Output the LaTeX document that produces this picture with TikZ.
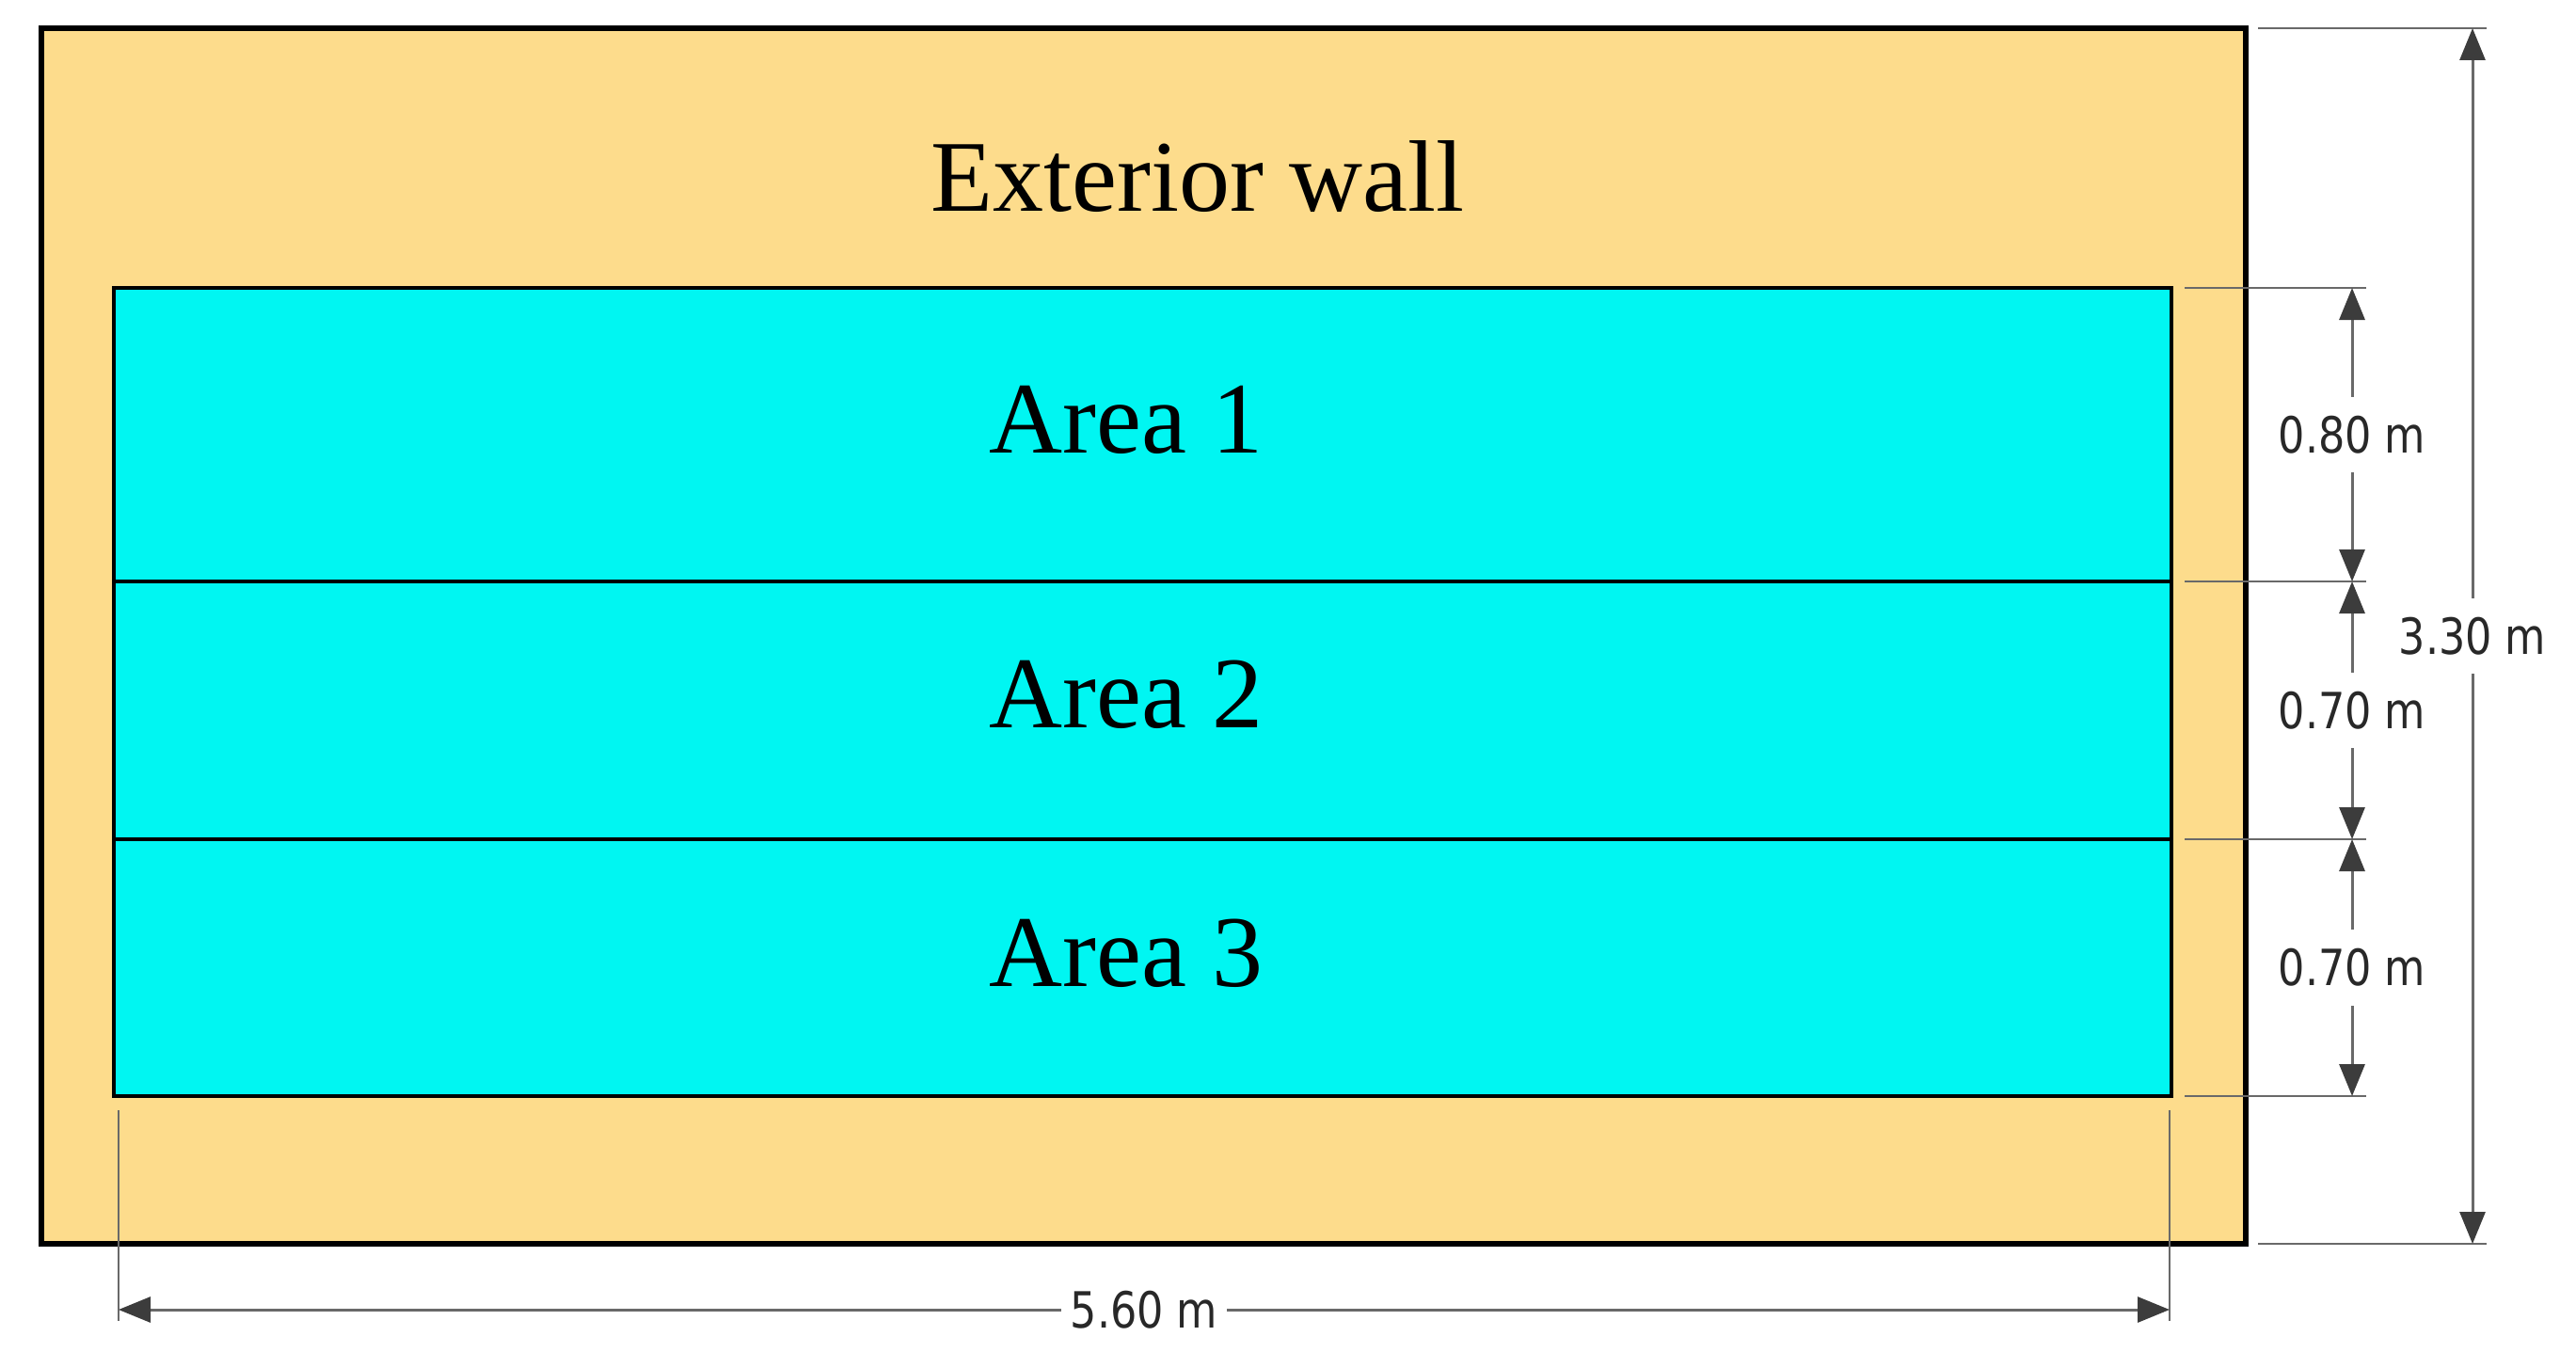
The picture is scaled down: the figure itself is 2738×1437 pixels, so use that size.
\documentclass[tikz,border=0pt]{standalone}
\usepackage{fontspec}
\usepackage{graphicx}
\setmainfont{Liberation Serif}
\newfontfamily\dimfont{DejaVu Sans}
\usetikzlibrary{arrows.meta}
\definecolor{wallfill}{RGB}{253,220,140}
\definecolor{areafill}{RGB}{0,246,242}
\definecolor{dimline}{RGB}{105,105,105}
\definecolor{dimtext}{RGB}{40,40,40}
\definecolor{arrowc}{RGB}{60,60,60}
\newcommand{\dimtxt}[1]{\scalebox{0.84}[1]{#1}}
\begin{document}
\begin{tikzpicture}[x=1pt,y=-1pt,
  wall/.style={fill=wallfill,draw=black,line width=5.5pt},
  area/.style={fill=areafill,draw=black,line width=3.5pt},
  extline/.style={draw=dimline,line width=2.5pt},
  dimarrow/.style={draw=dimline,line width=3pt,
    {Triangle[length=34pt,width=27pt,color=arrowc]}-{Triangle[length=34pt,width=27pt,color=arrowc]}},
  dimlabel/.style={fill=white,text=dimtext,inner xsep=10pt,inner ysep=20pt,
    font=\dimfont\fontsize{53}{53}\selectfont},
  arealabel/.style={font=\fontsize{108}{108}\selectfont,inner sep=0pt,anchor=base}
]
\useasboundingbox (0,0) rectangle (2738,1437);

% exterior wall
\draw[wall] (44,30) rectangle (2387,1322);
\node[arealabel] (wallname) at (1273,224) {Exterior wall};

% areas
\draw[area] (121,306) rectangle (2308,1165);
\draw[area] (121,618) -- (2308,618);
\draw[area] (121,892) -- (2308,892);
\node[arealabel] (a1) at (1197,481) {Area 1};
\node[arealabel] (a2) at (1197,773) {Area 2};
\node[arealabel] (a3) at (1197,1048) {Area 3};

% coordinates for dimensioning
\coordinate (d0) at (2500,306);
\coordinate (d1) at (2500,618);
\coordinate (d2) at (2500,892);
\coordinate (d3) at (2500,1165);
\coordinate (t0) at (2628,30);
\coordinate (t1) at (2628,1322);
\coordinate (b0) at (126,1392);
\coordinate (b1) at (2306,1392);

% extension lines
\draw[extline] (2322,306) -- (2515,306);
\draw[extline] (2322,618) -- (2515,618);
\draw[extline] (2322,892) -- (2515,892);
\draw[extline] (2322,1165) -- (2515,1165);
\draw[extline] (2400,30) -- (2643,30);
\draw[extline] (2400,1322) -- (2643,1322);
\draw[extline] (126,1180) -- (126,1404);
\draw[extline] (2306,1180) -- (2306,1404);

% dimension arrows
\draw[dimarrow] (d0) -- (d1) node[midway,dimlabel] (l1) {\dimtxt{0.80 m}};
\draw[dimarrow] (d1) -- (d2) node[midway,dimlabel] (l2) {\dimtxt{0.70 m}};
\draw[dimarrow] (d2) -- (d3) node[midway,dimlabel] (l3) {\dimtxt{0.70 m}};
\draw[dimarrow] (t0) -- (t1) node[midway,dimlabel] (lt) {\dimtxt{3.30 m}};
\draw[dimarrow] (b0) -- (b1) node[midway,dimlabel] (lb) {\dimtxt{5.60 m}};
\end{tikzpicture}
\end{document}
